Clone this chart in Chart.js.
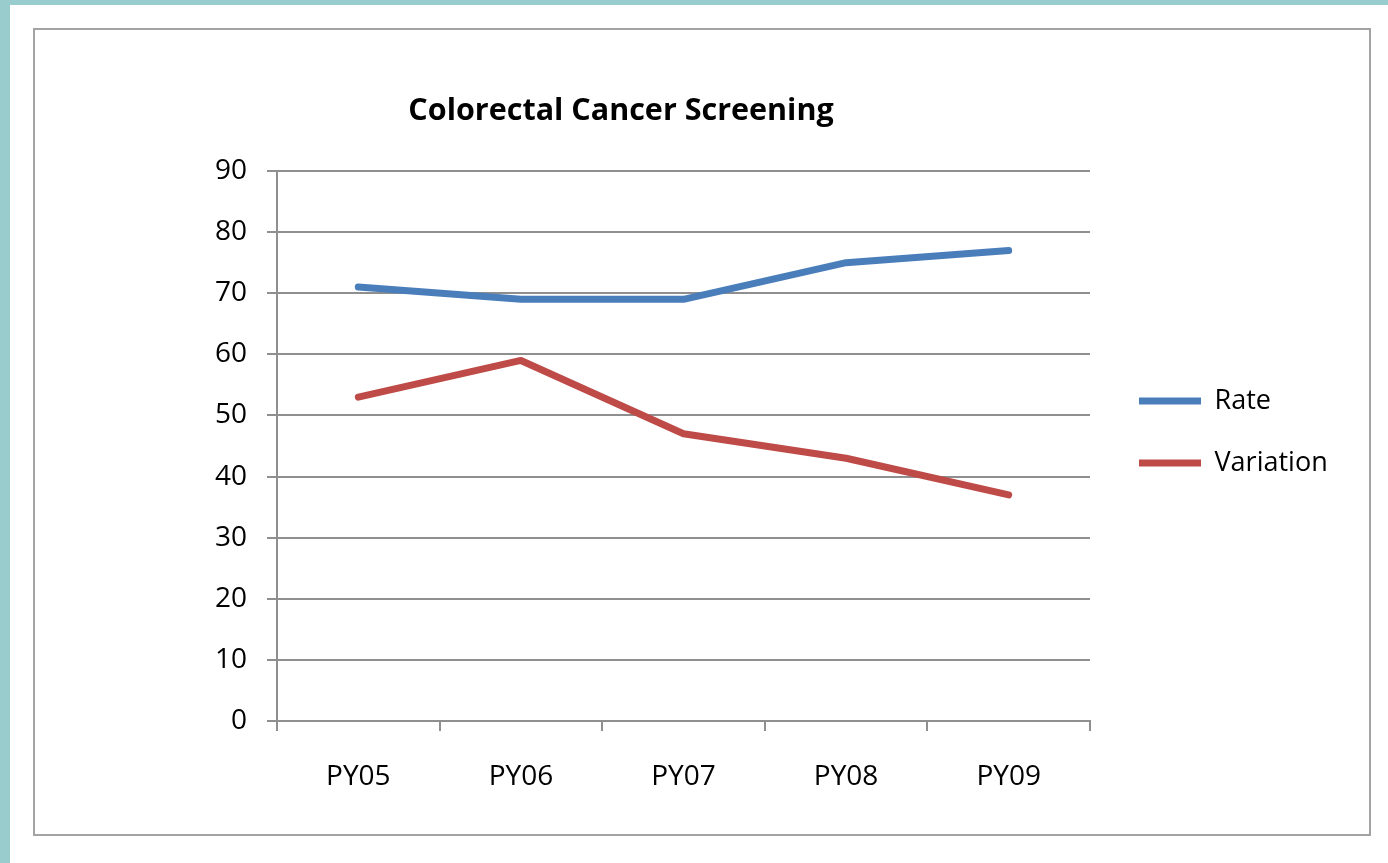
<!DOCTYPE html>
<html>
<head>
<meta charset="utf-8">
<title>Colorectal Cancer Screening</title>
<script src="https://cdn.jsdelivr.net/npm/chart.js@4/dist/chart.umd.min.js"></script>
<style>
  html, body { margin: 0; padding: 0; background: #ffffff; }
  body { width: 1388px; height: 863px; position: relative; overflow: hidden; }
  .edge-top { position: absolute; left: 0; top: 0; width: 1388px; height: 5px; background: #99cccc; }
  .edge-left { position: absolute; left: 0; top: 0; width: 10px; height: 863px; background: #99cccc; }
  .frame {
    position: absolute; left: 33px; top: 28px; width: 1338px; height: 808px;
    box-sizing: border-box; border: 2px solid #a3a3a3; background: #ffffff;
  }
  #chart { position: absolute; left: 0; top: 0; }
</style>
</head>
<body>
<div class="edge-top"></div>
<div class="edge-left"></div>
<div class="frame">
  <canvas id="chart" width="1334" height="804"></canvas>
</div>
<script>
// Program years and screening figures
const categories = ['PY05', 'PY06', 'PY07', 'PY08', 'PY09'];
const rateValues = [71, 69, 69, 75, 77];
const variationValues = [53, 59, 47, 43, 37];
const seriesNames = ['Rate', 'Variation'];
const yMin = 0;
const yMax = 90;
const yStep = 10;

const FONT = '"Open Sans", "Liberation Sans", sans-serif';
const GRID = '#8f8f8f';
const CANVAS_W = 1334;
const PLOT_RIGHT = 1055;      // right edge of the plot area in canvas pixels
const TITLE_CENTER_X = 586;   // horizontal centre of the title in canvas pixels
const LEGEND_SHIFT = 14;      // extra gap between plot and legend

const legendFontSize = 27;
const legendPad = 35;
const legendLineW = 62;

// Width Chart.js will give the vertical legend, so the plot can end at PLOT_RIGHT
const measure = document.createElement('canvas').getContext('2d');
measure.font = legendFontSize + 'px ' + FONT;
const longestName = Math.max(...seriesNames.map(n => measure.measureText(n).width));
const legendWidth = legendPad + legendLineW + legendFontSize / 2 + longestName + 10;
const rightPad = Math.max(0, CANVAS_W - PLOT_RIGHT - legendWidth);

// Moves the title and legend boxes after Chart.js has laid them out
const boxNudge = {
  id: 'boxNudge',
  afterLayout(chart) {
    const t = chart.titleBlock;
    if (t) {
      const d = TITLE_CENTER_X - (t.left + t.right) / 2;
      t.left += d; t.right += d;
    }
    const l = chart.legend;
    if (l) { l.left += LEGEND_SHIFT; l.right += LEGEND_SHIFT; }
  }
};

function lineSeries(label, values, color) {
  return {
    label: label,
    data: values,
    borderColor: color,
    backgroundColor: color,
    borderWidth: 7,
    borderCapStyle: 'round',
    borderJoinStyle: 'round',
    pointRadius: 0,
    pointHoverRadius: 0,
    tension: 0,
    fill: false
  };
}

new Chart(document.getElementById('chart'), {
  type: 'line',
  data: {
    labels: categories,
    datasets: [
      lineSeries(seriesNames[0], rateValues, '#4a7ebb'),
      lineSeries(seriesNames[1], variationValues, '#be4b48')
    ]
  },
  options: {
    responsive: false,
    devicePixelRatio: 1,
    animation: false,
    events: [],
    layout: { padding: { left: 0, right: rightPad, top: 0, bottom: 0 } },
    plugins: {
      title: {
        display: true,
        text: 'Colorectal Cancer Screening',
        color: '#000000',
        font: { family: FONT, size: 30.5, weight: 'bold' },
        padding: { top: 63, bottom: 41.4 }
      },
      legend: {
        display: true,
        position: 'right',
        align: 'center',
        labels: {
          color: '#000000',
          font: { family: FONT, size: legendFontSize },
          usePointStyle: true,
          pointStyle: 'line',
          pointStyleWidth: legendLineW,
          padding: legendPad
        }
      },
      tooltip: { enabled: false }
    },
    scales: {
      x: {
        type: 'category',
        offset: true,
        afterFit(scale) { scale.height = 113; },
        grid: {
          display: true,
          offset: true,
          drawOnChartArea: false,
          drawTicks: true,
          tickLength: 10,
          color: GRID,
          lineWidth: 2
        },
        border: { display: true, color: GRID, width: 2 },
        ticks: {
          color: '#000000',
          font: { family: FONT, size: 28 },
          padding: 29,
          maxRotation: 0
        }
      },
      y: {
        min: yMin,
        max: yMax,
        afterFit(scale) { scale.width = 242; },
        grid: {
          color: GRID,
          lineWidth: 2,
          drawTicks: true,
          tickLength: 10
        },
        border: { display: true, color: GRID, width: 2 },
        ticks: {
          stepSize: yStep,
          color: '#000000',
          font: { family: FONT, size: 28 },
          padding: 20
        }
      }
    }
  },
  plugins: [boxNudge]
});
</script>
</body>
</html>
